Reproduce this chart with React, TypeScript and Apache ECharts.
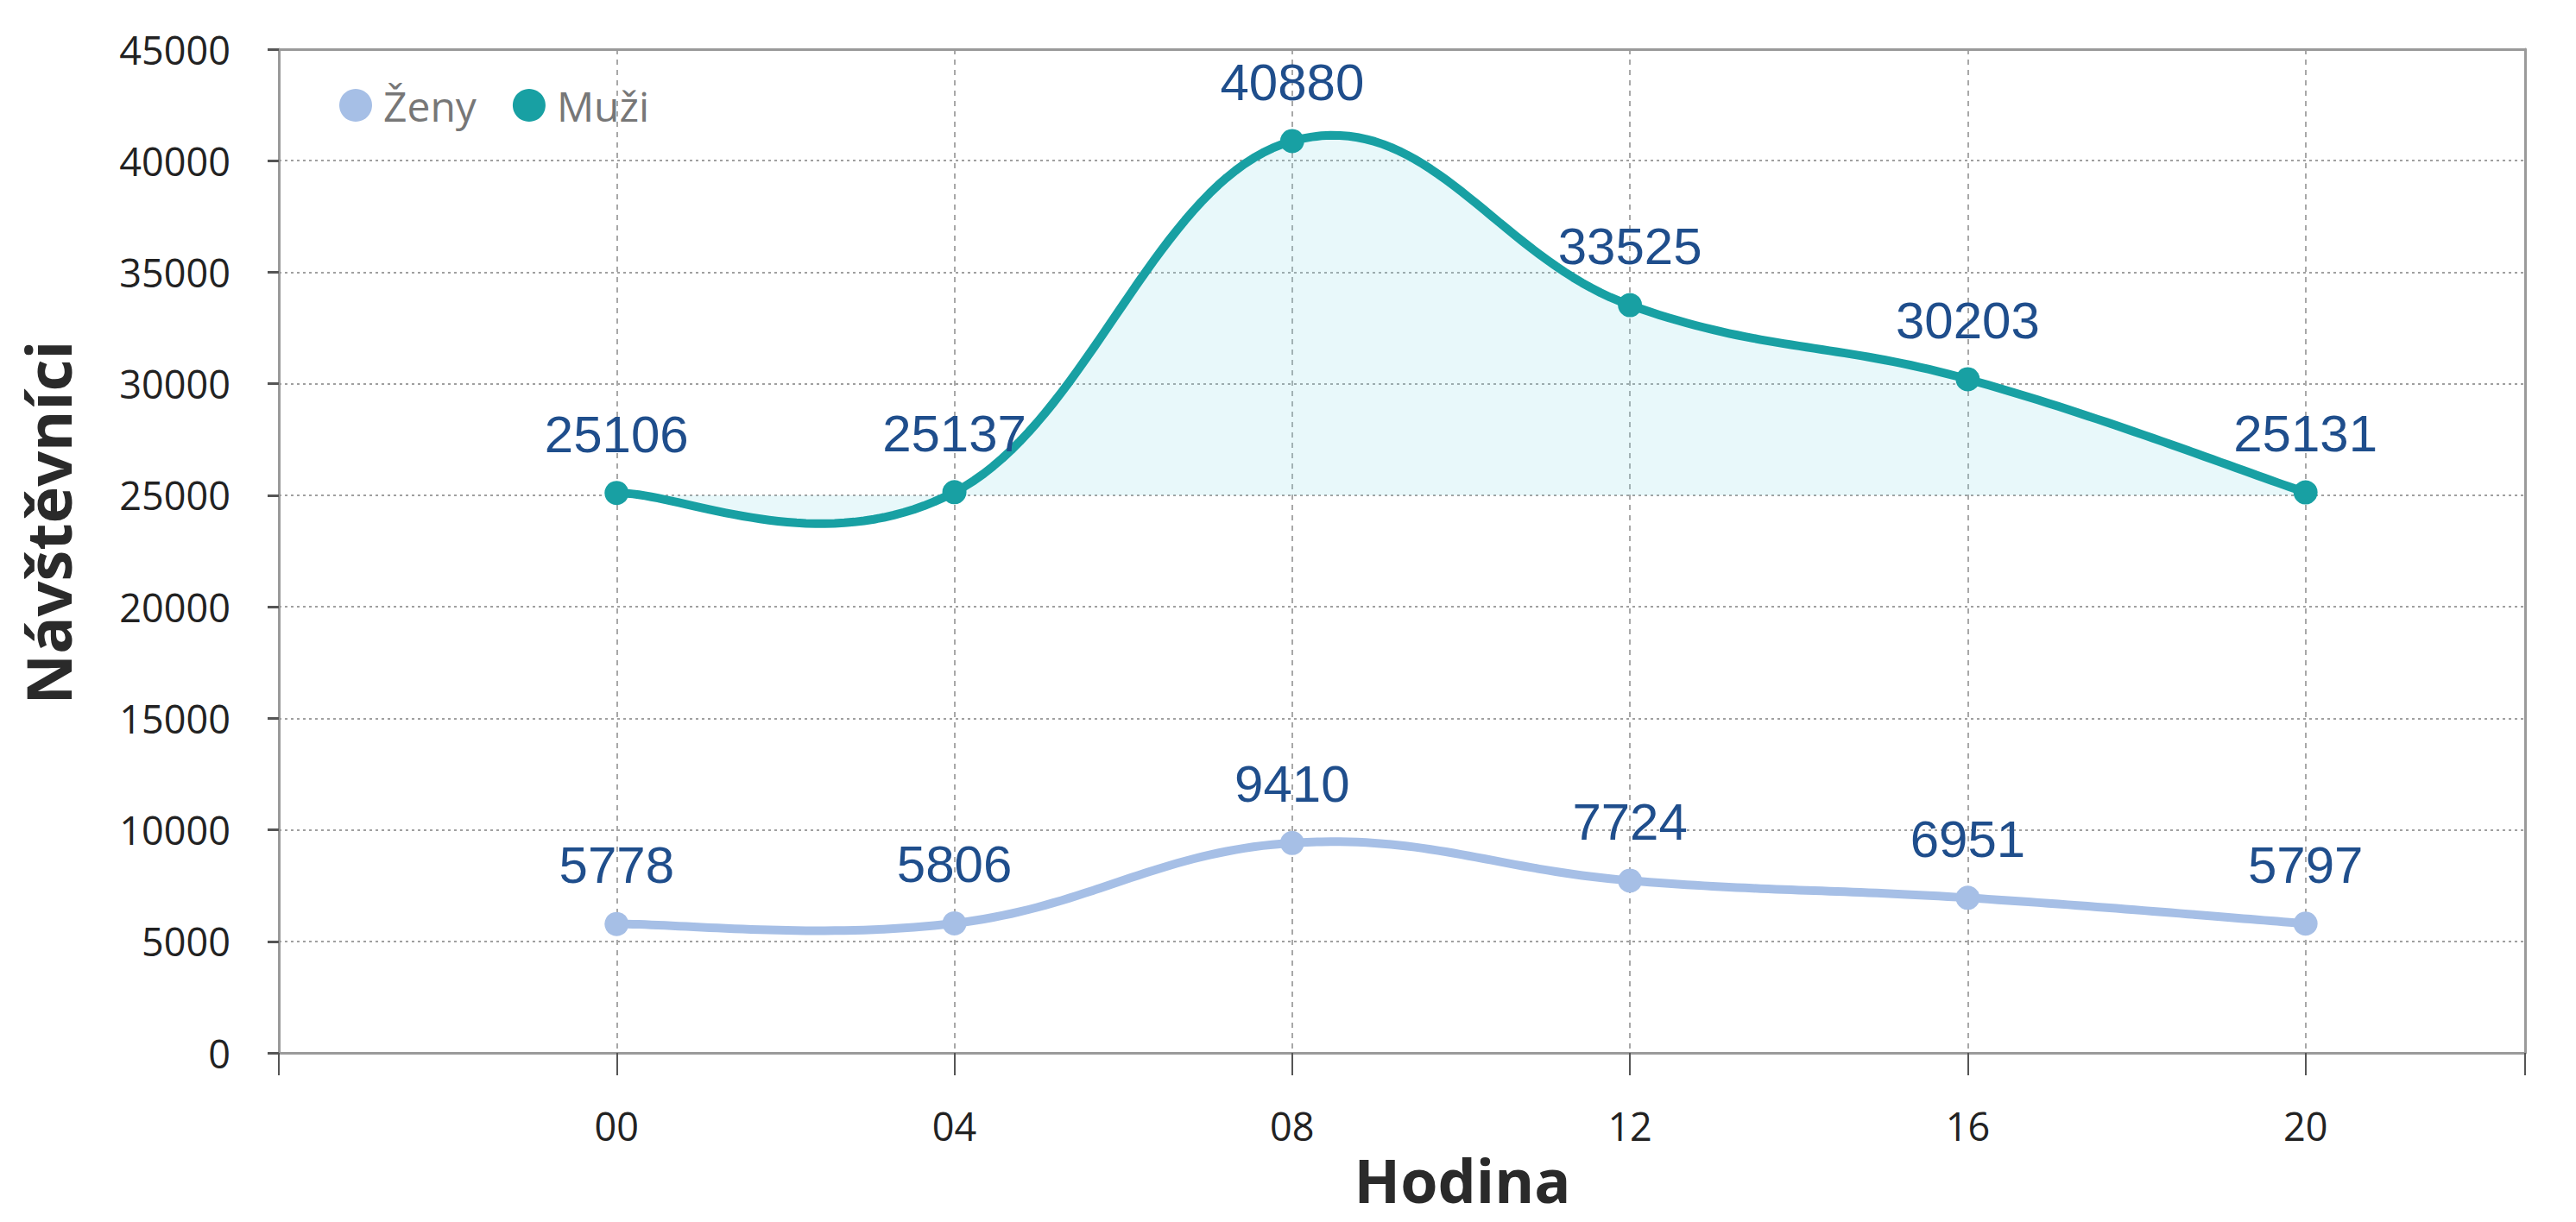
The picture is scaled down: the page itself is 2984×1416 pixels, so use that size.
import React, { useEffect, useRef } from 'react';
import * as echarts from 'echarts';

const hours = [0, 4, 8, 12, 16, 20];
const hourLabels = ['00', '04', '08', '12', '16', '20'];
const zeny = [5778, 5806, 9410, 7724, 6951, 5797];
const muzi = [25106, 25137, 40880, 33525, 30203, 25131];
const muziAreaBase = 25000;
const seriesNames = ['Ženy', 'Muži'];
const colors = ['#a6bfe6', '#18a0a3'];
const xTitle = 'Hodina';
const yTitle = 'Návštěvníci';

// Cardinal spline through pixel points (allows overshoot like the original)
function splinePoints(pts: number[][], k: number, steps: number): number[][] {
  const out: number[][] = [pts[0]];
  for (let i = 0; i < pts.length - 1; i++) {
    const p0 = pts[Math.max(i - 1, 0)];
    const p1 = pts[i];
    const p2 = pts[i + 1];
    const p3 = pts[Math.min(i + 2, pts.length - 1)];
    const c1 = [p1[0] + (p2[0] - p0[0]) * k, p1[1] + (p2[1] - p0[1]) * k];
    const c2 = [p2[0] - (p3[0] - p1[0]) * k, p2[1] - (p3[1] - p1[1]) * k];
    for (let s = 1; s <= steps; s++) {
      const t = s / steps;
      const a = (1 - t) * (1 - t) * (1 - t);
      const b = 3 * (1 - t) * (1 - t) * t;
      const c = 3 * (1 - t) * t * t;
      const d = t * t * t;
      out.push([
        a * p1[0] + b * c1[0] + c * c2[0] + d * p2[0],
        a * p1[1] + b * c1[1] + c * c2[1] + d * p2[1],
      ]);
    }
  }
  return out;
}

function curveRenderer(values: number[], color: string, width: number, areaBase: number | null, areaColor: string) {
  return (params: any, api: any) => {
    if (params.dataIndex !== 0) return null;
    const pts = hours.map((h, i) => api.coord([h, values[i]]));
    const curve = splinePoints(pts, 0.2, 40);
    const children: any[] = [];
    if (areaBase !== null) {
      const baseY = api.coord([0, areaBase])[1];
      const poly = curve.concat([[curve[curve.length - 1][0], baseY], [curve[0][0], baseY]]);
      children.push({
        type: 'polygon',
        shape: { points: poly },
        style: { fill: areaColor, stroke: 'none' },
        silent: true,
      });
    }
    children.push({
      type: 'polyline',
      shape: { points: curve },
      style: { stroke: color, lineWidth: width, fill: 'none', lineJoin: 'round', lineCap: 'round' },
      silent: true,
    });
    return { type: 'group', children };
  };
}

export default function App() {
  const ref = useRef<HTMLDivElement>(null);
  useEffect(() => {
    if (!ref.current) return;
    const chart = echarts.init(ref.current, null, { renderer: 'svg' });
    const labelStyle = {
      show: true,
      position: 'top',
      distance: 24,
      color: '#1f4e8c',
      fontFamily: 'Liberation Sans, Arial, sans-serif',
      fontSize: 60,
    };
    chart.setOption({
      animation: false,
      backgroundColor: '#ffffff',
      grid: { left: 323, right: 59, top: 57, bottom: 196, containLabel: false },
      legend: {
        left: 388,
        top: 93,
        icon: 'circle',
        itemWidth: 38,
        itemHeight: 38,
        itemGap: 42,
        textStyle: {
          color: '#777777',
          fontSize: 48,
          fontFamily: 'Open Sans, sans-serif',
          padding: [0, 0, 0, 8],
        },
        data: seriesNames,
      },
      xAxis: [
        {
          type: 'value',
          min: -4,
          max: 22.6,
          interval: 4,
          name: xTitle,
          nameLocation: 'middle',
          nameGap: 110,
          nameTextStyle: {
            fontFamily: 'Open Sans, sans-serif',
            fontWeight: 'bold',
            fontSize: 70,
            lineHeight: 70,
            color: '#2a2a2a',
            padding: [0, 0, 0, 140],
          },
          axisLine: { show: true, onZero: false, lineStyle: { color: '#9a9a9a', width: 3 } },
          axisTick: { show: true, length: 26, lineStyle: { color: '#555555', width: 2 } },
          axisLabel: {
            margin: 62,
            color: '#222222',
            fontSize: 45,
            fontFamily: 'Open Sans, sans-serif',
            formatter: (v: number) => {
              const i = hours.indexOf(v);
              return i >= 0 ? hourLabels[i] : '';
            },
          },
          splitLine: { show: true, lineStyle: { color: '#a8a8a8', type: [6, 6], width: 2 } },
        },
        {
          type: 'value',
          position: 'top',
          min: -4,
          max: 22.6,
          interval: 4,
          axisLine: { show: true, onZero: false, lineStyle: { color: '#9a9a9a', width: 3 } },
          axisTick: { show: false },
          axisLabel: { show: false },
          splitLine: { show: false },
        },
      ],
      yAxis: [
        {
          type: 'value',
          min: 0,
          max: 45000,
          interval: 5000,
          name: yTitle,
          nameLocation: 'middle',
          nameGap: 232,
          nameTextStyle: {
            fontFamily: 'Open Sans, sans-serif',
            fontWeight: 'bold',
            fontSize: 72,
            color: '#2a2a2a',
            padding: [0, 0, 0, 66],
          },
          axisLine: { show: true, onZero: false, lineStyle: { color: '#9a9a9a', width: 3 } },
          axisTick: { show: true, length: 13, lineStyle: { color: '#555555', width: 3 } },
          axisLabel: {
            margin: 56,
            color: '#222222',
            fontSize: 45,
            fontFamily: 'Open Sans, sans-serif',
            formatter: (v: number) => String(v),
          },
          splitLine: { show: true, lineStyle: { color: '#a0a0a0', type: [3, 4], width: 2 } },
        },
        {
          type: 'value',
          position: 'right',
          min: 0,
          max: 45000,
          interval: 5000,
          axisLine: { show: true, onZero: false, lineStyle: { color: '#9a9a9a', width: 3 } },
          axisTick: { show: false },
          axisLabel: { show: false },
          splitLine: { show: false },
        },
      ],
      series: [
        {
          name: 'Muži-curve',
          type: 'custom',
          data: hours.map((h, i) => [h, muzi[i]]),
          renderItem: curveRenderer(muzi, colors[1], 10, muziAreaBase, 'rgba(140, 220, 228, 0.2)'),
          z: 2,
          silent: true,
        },
        {
          name: 'Ženy-curve',
          type: 'custom',
          data: hours.map((h, i) => [h, zeny[i]]),
          renderItem: curveRenderer(zeny, colors[0], 10, null, ''),
          z: 2,
          silent: true,
        },
        {
          name: seriesNames[0],
          type: 'line',
          data: hours.map((h, i) => [h, zeny[i]]),
          symbol: 'circle',
          symbolSize: 28,
          itemStyle: { color: colors[0] },
          lineStyle: { color: colors[0], width: 0, opacity: 0 },
          label: labelStyle,
          z: 3,
        },
        {
          name: seriesNames[1],
          type: 'line',
          data: hours.map((h, i) => [h, muzi[i]]),
          symbol: 'circle',
          symbolSize: 28,
          itemStyle: { color: colors[1] },
          lineStyle: { color: colors[1], width: 0, opacity: 0 },
          label: labelStyle,
          z: 3,
        },
      ],
    });
    return () => chart.dispose();
  }, []);
  return (
    <div
      ref={ref}
      style={{ position: 'absolute', left: 0, top: 0, width: 2984, height: 1416 }}
    />
  );
}
